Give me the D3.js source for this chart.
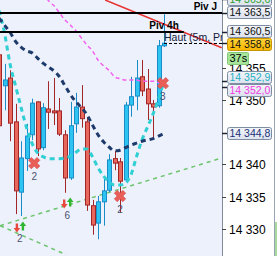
<!DOCTYPE html>
<html>
<head>
<meta charset="utf-8">
<script src="https://cdn.jsdelivr.net/npm/d3@7"></script>
<style>
  body { margin: 0; background: #fff; }
  svg { display: block; font-family: "Liberation Sans", Arial, sans-serif; }
</style>
</head>
<body>
<div id="chart"></div>
<script>
// candles (5m), index 0..30
var opens  = [14357.0, 14352.2, 14353.4, 14346.6, 14335.7, 14340.9, 14344.6, 14349.7, 14342.6, 14348.6, 14348.3, 14348.3, 14344.6, 14337.9, 14346.3, 14348.9, 14346.6, 14333.6, 14330.9, 14334.2, 14336.0, 14340.9, 14340.4, 14337.6, 14349.2, 14350.6, 14353.6, 14351.7, 14349.4, 14349.1, 14358.4];
var highs  = [14357.3, 14355.6, 14354.6, 14349.4, 14343.6, 14346.3, 14350.2, 14349.8, 14349.5, 14352.9, 14353.4, 14350.3, 14345.3, 14349.7, 14351.1, 14352.3, 14347.2, 14334.5, 14335.1, 14337.8, 14341.6, 14342.1, 14341.0, 14349.7, 14353.6, 14356.2, 14356.2, 14354.8, 14350.0, 14359.3, 14363.3];
var lows   = [14345.7, 14348.4, 14343.6, 14332.3, 14332.0, 14339.0, 14343.8, 14341.3, 14342.2, 14345.5, 14346.1, 14344.4, 14335.6, 14337.6, 14344.9, 14345.7, 14332.8, 14329.1, 14328.4, 14330.5, 14335.7, 14339.1, 14332.5, 14337.3, 14347.4, 14348.4, 14350.6, 14346.9, 14344.1, 14348.8, 14358.2];
var closes = [14346.0, 14353.1, 14346.4, 14335.9, 14341.0, 14344.4, 14349.5, 14342.4, 14348.8, 14348.1, 14348.0, 14344.7, 14337.9, 14346.0, 14348.9, 14347.1, 14333.7, 14330.6, 14334.2, 14335.9, 14340.7, 14340.2, 14337.4, 14349.2, 14350.5, 14353.4, 14351.4, 14349.4, 14348.9, 14358.4, 14358.8];

// moving averages
var navyMa = [14362.7, 14361.6, 14360.5, 14359.1, 14358.2, 14357.6, 14357.3, 14356.5, 14355.7, 14355.1, 14354.5, 14353.6, 14352.2, 14350.8, 14349.7, 14348.8, 14347.7, 14346.1, 14344.6, 14343.5, 14342.7, 14342.1, 14342.2, 14342.6, 14343.0, 14343.3, 14343.6, 14343.8, 14344.0, 14344.4, 14344.8];
var tealMa = [14363.9, 14360.4, 14355.6, 14352.2, 14348.9, 14345.7, 14343.3, 14341.8, 14341.2, 14340.9, 14340.9, 14340.9, 14341.0, 14341.3, 14341.9, 14342.4, 14342.4, 14341.2, 14339.5, 14338.2, 14337.3, 14336.8, 14336.8, 14337.1, 14338.4, 14341.2, 14343.8, 14345.8, 14347.8, 14350.2, 14352.9];
var pinkMa = [null, null, null, null, null, null, null, null, 14366.6, 14365.4, 14364.6, 14363.5, 14362.4, 14361.6, 14360.7, 14359.6, 14358.5, 14357.6, 14356.2, 14355.3, 14354.6, 14353.6, 14353.3, 14353.1, 14353.1, 14353.1, 14352.9, 14352.9, 14352.9, 14352.7, 14352.5];

// pivots
var pivotNames = ["Piv J", "Piv 4h"];
var pivotLevels = [14363.5, 14360.5];
var pivotEnds = [null, 33.6];

// trend lines [index, price]
var greenLines = [[[0.2, 14330.5], [40.5, 14341.0]], [[0.2, 14330.5], [12.2, 14326.0]]];
var redLine = [[19.3, 14365.5], [40.5, 14358.1]];

// signals
var crossIdx = [6.4, 22, 29.8];
var crossPrice = [14340.2, 14335.1, 14352.6];
var crossCount = ["2", "2", "3"];
var arrowIdx = [3.8, 12.4];
var arrowPrice = [14330.3, 14334.0];
var arrowCount = ["2", "6"];

// axis
var yTicks = [14330, 14335, 14340, 14345, 14350, 14355, 14360, 14365];
var tagValues = [14365.6, 14363.5, 14360.5, 14358.8, 14352.9, 14352.0, 14344.8];
var tagColors = ["#2ca02c", "#111", "#111", "#111", "#1fb0c2", "#f03ce4", "#1a3278"];
var lastPrice = 14358.8;
var timerText = "37s";

var svgWidth = 277;
var svgHeight = 256;
var plotWidth = 222;

var svg = d3.select("#chart")
    .append("svg")
    .attr("width", svgWidth)
    .attr("height", svgHeight);

var xScale = d3.scaleLinear().domain([0, 30]).range([-1, 164]);
var yScale = d3.scaleLinear().domain([14325.8, 14365.5]).range([svgHeight, 0]);

var defs = svg.append("defs");
defs.append("clipPath").attr("id", "plotClip")
    .append("rect").attr("width", plotWidth).attr("height", svgHeight);

var tagGrad = defs.append("linearGradient").attr("id", "tagGrad").attr("x1", 0).attr("y1", 0).attr("x2", 0).attr("y2", 1);
tagGrad.append("stop").attr("offset", "0%").attr("stop-color", "#f3f5fa");
tagGrad.append("stop").attr("offset", "100%").attr("stop-color", "#dce2ee");
var goldGrad = defs.append("linearGradient").attr("id", "goldGrad").attr("x1", 0).attr("y1", 0).attr("x2", 0).attr("y2", 1);
goldGrad.append("stop").attr("offset", "0%").attr("stop-color", "#ffd43a");
goldGrad.append("stop").attr("offset", "100%").attr("stop-color", "#f7b500");

var plot = svg.append("g").attr("clip-path", "url(#plotClip)");

plot.append("rect")
    .attr("width", plotWidth)
    .attr("height", svgHeight)
    .attr("fill", "#edf1fc");

var seg = d3.line()
    .x(function (d) { return xScale(d[0]); })
    .y(function (d) { return yScale(d[1]); });

plot.selectAll(".trend")
    .data(greenLines)
    .enter()
    .append("path")
    .attr("class", "trend")
    .attr("d", seg)
    .attr("fill", "none")
    .attr("stroke", "#6cc46c")
    .attr("stroke-width", 1.5)
    .attr("stroke-dasharray", "4,4");

// candles
var candles = d3.range(opens.length).map(function (i) {
    return { i: i, o: opens[i], h: highs[i], l: lows[i], c: closes[i], up: closes[i] >= opens[i] };
});

var candleGroup = plot.selectAll(".candle")
    .data(candles)
    .enter()
    .append("g")
    .attr("class", "candle");

candleGroup.append("line")
    .attr("x1", function (d) { return Math.round(xScale(d.i)) + 0.5; })
    .attr("x2", function (d) { return Math.round(xScale(d.i)) + 0.5; })
    .attr("y1", function (d) { return yScale(d.h); })
    .attr("y2", function (d) { return yScale(d.l); })
    .attr("stroke", function (d) { return d.up ? "#1a8cc8" : "#a22626"; })
    .attr("stroke-width", 1);

candleGroup.append("rect")
    .attr("x", function (d) { return Math.round(xScale(d.i)) - 1.5; })
    .attr("width", 4)
    .attr("y", function (d) { return yScale(Math.max(d.o, d.c)); })
    .attr("height", function (d) { return Math.max(1, Math.abs(yScale(d.o) - yScale(d.c))); })
    .attr("fill", function (d) { return d.up ? "#2ec4f2" : "#e8685e"; })
    .attr("stroke", function (d) { return d.up ? "#1a8cc8" : "#a22626"; })
    .attr("stroke-width", 1);

// moving averages
var maLine = d3.line()
    .defined(function (d) { return d != null; })
    .x(function (d, i) { return xScale(i); })
    .y(function (d) { return yScale(d); })
    .curve(d3.curveMonotoneX);

plot.append("path")
    .attr("d", maLine(pinkMa))
    .attr("fill", "none")
    .attr("stroke", "#f45ef0")
    .attr("stroke-width", 1.5)
    .attr("stroke-dasharray", "4,3");

plot.append("path")
    .attr("d", maLine(tealMa))
    .attr("fill", "none")
    .attr("stroke", "#30cfd4")
    .attr("stroke-width", 3)
    .attr("stroke-dasharray", "5,4");

plot.append("path")
    .attr("d", maLine(navyMa))
    .attr("fill", "none")
    .attr("stroke", "#1d3a6a")
    .attr("stroke-width", 3)
    .attr("stroke-dasharray", "5,4");

// signals
var crossSym = d3.symbol().type(d3.symbolCross).size(80);
crossIdx.forEach(function (k, i) {
    var cx = xScale(k), cy = yScale(crossPrice[i]);
    plot.append("path")
        .attr("d", crossSym())
        .attr("transform", "translate(" + cx + "," + cy + ") rotate(45)")
        .attr("fill", "#ea5e58")
        .attr("stroke", "#d04646")
        .attr("stroke-width", 0.6);
    plot.append("text")
        .attr("x", cx)
        .attr("y", cy + 13)
        .attr("dy", "0.35em")
        .attr("text-anchor", "middle")
        .attr("font-size", 10)
        .attr("fill", "#4c5270")
        .text(crossCount[i]);
});

var downArrow = "M-1.2,-4.5H1.2V0H3.3L0,4.5L-3.3,0H-1.2Z";
var upArrow = "M-1.2,4.5H1.2V0H3.3L0,-4.5L-3.3,0H-1.2Z";
arrowIdx.forEach(function (k, i) {
    var ax = xScale(k), ay = yScale(arrowPrice[i]);
    plot.append("path")
        .attr("d", downArrow)
        .attr("transform", "translate(" + (ax - 3) + "," + (ay + 1) + ")")
        .attr("fill", "#e8483c");
    plot.append("path")
        .attr("d", upArrow)
        .attr("transform", "translate(" + (ax + 3) + "," + (ay - 1) + ")")
        .attr("fill", "#2fb52f");
    plot.append("text")
        .attr("x", ax)
        .attr("y", ay + 12)
        .attr("dy", "0.35em")
        .attr("text-anchor", "middle")
        .attr("font-size", 10)
        .attr("fill", "#4c5270")
        .text(arrowCount[i]);
});

// red resistance line
plot.append("path")
    .attr("d", seg(redLine))
    .attr("stroke", "#e83232")
    .attr("stroke-width", 1.5)
    .attr("fill", "none");

// pivots
pivotLevels.forEach(function (v, i) {
    var y = Math.round(yScale(v));
    var xEnd = pivotEnds[i] == null ? plotWidth : xScale(pivotEnds[i]);
    plot.append("line")
        .attr("x1", 0).attr("x2", xEnd)
        .attr("y1", y).attr("y2", y)
        .attr("stroke", "#000")
        .attr("stroke-width", 2);
    plot.append("text")
        .attr("x", xEnd - 5)
        .attr("y", y - 3)
        .attr("text-anchor", "end")
        .attr("font-size", 10)
        .attr("font-weight", "bold")
        .attr("fill", "#000")
        .text(pivotNames[i]);
});

// last price line
var lastY = Math.round(yScale(lastPrice)) + 0.5;
plot.append("line")
    .attr("x1", xScale(30)).attr("x2", plotWidth)
    .attr("y1", lastY).attr("y2", lastY)
    .attr("stroke", "#000")
    .attr("stroke-width", 1)
    .attr("stroke-dasharray", "3,2");
plot.append("text")
    .attr("x", xScale(30))
    .attr("y", lastY - 2.5)
    .attr("font-size", 10.5)
    .attr("fill", "#14203a")
    .text("Haut (5m, Pr");

// price axis panel
var axisG = svg.append("g");
axisG.append("rect")
    .attr("x", plotWidth)
    .attr("width", svgWidth - plotWidth)
    .attr("height", svgHeight)
    .attr("fill", "#fff");
axisG.append("line")
    .attr("x1", plotWidth + 0.5).attr("x2", plotWidth + 0.5)
    .attr("y1", 0).attr("y2", svgHeight)
    .attr("stroke", "#7f8c9c");
axisG.append("line")
    .attr("x1", 274.5).attr("x2", 274.5)
    .attr("y1", 0).attr("y2", svgHeight)
    .attr("stroke", "#9aa5b2");
axisG.append("rect")
    .attr("x", 275).attr("y", 222)
    .attr("width", 2).attr("height", svgHeight - 222)
    .attr("fill", "#a9d9a0");

var fmtTick = function (v) { var s = String(v); return s.slice(0, 2) + " " + s.slice(2); };
var fmtTag = function (v) { var s = v.toFixed(1).replace(".", ","); return s.slice(0, 2) + " " + s.slice(2); };

// price tags, spread so they do not overlap
var tagH = 13;
var tags = tagValues.map(function (v, i) {
    return { v: v, y0: yScale(v), color: tagColors[i], gold: v === lastPrice };
});
var groups = [];
tags.slice().sort(function (a, b) { return a.y0 - b.y0; }).forEach(function (t) {
    groups.push({ members: [t], center: t.y0 });
    while (groups.length > 1) {
        var g = groups[groups.length - 1], p = groups[groups.length - 2];
        if (p.center + p.members.length * tagH / 2 <= g.center - g.members.length * tagH / 2) break;
        var m = p.members.concat(g.members);
        groups.splice(-2, 2, { members: m, center: d3.mean(m, function (d) { return d.y0; }) });
    }
});
groups.forEach(function (g) {
    g.members.forEach(function (t, j) {
        t.y = g.center - (g.members.length - 1) * tagH / 2 + j * tagH;
    });
});

// tick labels that sit fully under a tag are not drawn
var shownTicks = yTicks.filter(function (v) {
    var y = yScale(v);
    return !tags.some(function (t) { return Math.abs(t.y - y) < 6; });
});

var tickG = axisG.selectAll(".ytick")
    .data(shownTicks)
    .enter()
    .append("g")
    .attr("class", "ytick")
    .attr("transform", function (d) { return "translate(0," + (Math.round(yScale(d)) + 0.5) + ")"; });
tickG.append("line")
    .attr("x1", plotWidth).attr("x2", plotWidth + 4)
    .attr("stroke", "#444");
tickG.append("text")
    .attr("x", plotWidth + 7)
    .attr("dy", "0.35em")
    .attr("font-size", 12)
    .attr("fill", "#000")
    .text(fmtTick);

axisG.selectAll(".tagTick")
    .data(tags)
    .enter()
    .append("line")
    .attr("x1", plotWidth).attr("x2", plotWidth + 5)
    .attr("y1", function (d) { return Math.round(d.y0) + 0.5; })
    .attr("y2", function (d) { return Math.round(d.y0) + 0.5; })
    .attr("stroke", "#1c2433")
    .attr("stroke-width", 1.5);

var tagG = axisG.selectAll(".tag")
    .data(tags)
    .enter()
    .append("g")
    .attr("class", "tag")
    .attr("transform", function (d) { return "translate(227.5," + (Math.round(d.y - tagH / 2) + 0.5) + ")"; });
tagG.append("rect")
    .attr("width", 44)
    .attr("height", tagH - 1)
    .attr("rx", 2)
    .attr("fill", function (d) { return d.gold ? "url(#goldGrad)" : "url(#tagGrad)"; })
    .attr("stroke", function (d) { return d.gold ? "#c89400" : "#7e8da2"; });
tagG.append("text")
    .attr("x", 2)
    .attr("y", (tagH - 1) / 2)
    .attr("dy", "0.36em")
    .attr("font-size", 10.5)
    .attr("fill", function (d) { return d.color; })
    .text(function (d) { return fmtTag(d.v); });

// countdown box under the last price tag
var goldTag = tags.filter(function (d) { return d.gold; })[0];
var timerG = axisG.append("g")
    .attr("transform", "translate(227.5," + (Math.round(goldTag.y + tagH / 2) + 1.5) + ")");
timerG.append("rect")
    .attr("width", 21)
    .attr("height", 12)
    .attr("rx", 1)
    .attr("fill", "#a6e69a")
    .attr("stroke", "#86c87a");
timerG.append("text")
    .attr("x", 2)
    .attr("y", 6)
    .attr("dy", "0.36em")
    .attr("font-size", 11)
    .attr("fill", "#000")
    .text(timerText);
</script>
</body>
</html>
